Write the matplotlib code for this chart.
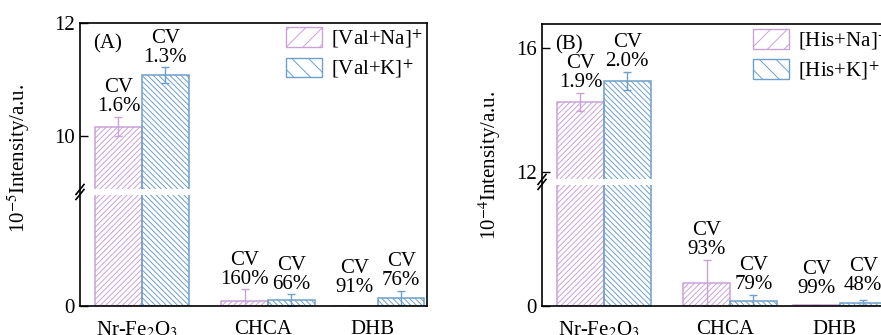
import numpy as np
import matplotlib
matplotlib.use("Agg")
import matplotlib.pyplot as plt
from matplotlib.patches import Patch, Rectangle

plt.rcParams["font.family"] = "Liberation Serif"
plt.rcParams["mathtext.fontset"] = "stix"
plt.rcParams["font.size"] = 15
plt.rcParams["hatch.linewidth"] = 0.7

# data
categories = ["Nr-Fe$_2$O$_3$", "CHCA", "DHB"]

val_na = [10.16, 0.39, 0.02]
val_na_err = [0.17, 0.92, 0.0]
val_k = [11.07, 0.47, 0.65]
val_k_err = [0.14, 0.45, 0.55]
val_na_cv = ["1.6%", "160%", "91%"]
val_k_cv = ["1.3%", "66%", "76%"]

his_na = [14.26, 2.17, 0.08]
his_na_err = [0.29, 2.17, 0.0]
his_k = [14.94, 0.47, 0.31]
his_k_err = [0.29, 0.57, 0.26]
his_na_cv = ["1.9%", "93%", "99%"]
his_k_cv = ["2.0%", "79%", "48%"]

PINK = "#c9a2d8"
BLUE = "#6d9fcc"
xpos = np.array([0.0, 1.0, 1.87])
width = 0.37


def broken_scale(brk, lower_px, upper_rate):
    low_rate = lower_px / brk

    def fwd(y):
        y = np.asarray(y, dtype=float)
        return np.where(y <= brk, y * low_rate, lower_px + (y - brk) * upper_rate)

    def inv(v):
        v = np.asarray(v, dtype=float)
        return np.where(v <= lower_px, v / low_rate, brk + (v - lower_px) / upper_rate)

    return fwd, inv


def panel(ax, na, na_err, k, k_err, na_cv, k_cv, names, tag, ylabel,
          brk, lower_px, upper_rate, ymax, yticks, extra_na, extra_k, leg_xy):
    fwd, inv = broken_scale(brk, lower_px, upper_rate)
    ax.set_yscale("function", functions=(fwd, inv))
    ax.set_ylim(0, ymax)
    ax.set_xlim(-0.49, 2.26)

    for off, vals, errs, col, hatch in [(-width / 2, na, na_err, PINK, "//////"),
                                        (width / 2, k, k_err, BLUE, "\\\\\\\\\\\\")]:
        ax.bar(xpos + off, vals, width, color="none", edgecolor=col,
               hatch=hatch, linewidth=1.1, zorder=1)
        ax.errorbar(xpos + off, vals, yerr=errs, fmt="none", ecolor=col,
                    elinewidth=1.0, capsize=3.2, capthick=1.0, zorder=2)

    # CV labels above each bar
    for i in range(len(xpos)):
        for off, vals, errs, cvs, extra in [(-width / 2, na, na_err, na_cv, extra_na),
                                            (width / 2, k, k_err, k_cv, extra_k)]:
            ax.annotate("CV\n" + cvs[i], xy=(xpos[i] + off, vals[i] + errs[i]),
                        xytext=(0, 0.5 + extra[i]), textcoords="offset points",
                        ha="center", va="bottom", linespacing=1.0)

    # white gap through the bars at the break
    frac = float(fwd(brk) / fwd(ymax))
    h_px = ax.get_position().height * ax.figure.get_figheight() * ax.figure.dpi
    gap = 3.0 / h_px
    ax.add_patch(Rectangle((0, frac - gap), 1, 2 * gap, transform=ax.transAxes,
                           facecolor="white", edgecolor="none", zorder=2.2))
    dx = 4.0 / (ax.get_position().width * ax.figure.get_figwidth() * ax.figure.dpi)
    dy = 5.0 / h_px
    for s in (-2.5 / h_px, 2.5 / h_px):
        ax.plot([-dx, dx], [frac + s - dy, frac + s + dy], color="black",
                lw=1.2, transform=ax.transAxes, clip_on=False, zorder=3)

    ax.set_yticks(yticks)
    ax.set_yticklabels([str(t) for t in yticks])
    ax.minorticks_off()
    ax.tick_params(axis="y", direction="in", length=6, width=1.0, pad=4)
    ax.set_xticks(xpos - 0.04)
    ax.set_xticklabels(names)
    ax.tick_params(axis="x", length=0, pad=10)
    for sp in ax.spines.values():
        sp.set_linewidth(1.2)

    ax.text(0.038, 0.96, tag, transform=ax.transAxes, ha="left", va="top")
    ax.set_ylabel(ylabel)

    handles = [Patch(facecolor="none", edgecolor=PINK, hatch="//", linewidth=1.0),
               Patch(facecolor="none", edgecolor=BLUE, hatch="\\\\", linewidth=1.0)]
    ax.legend(handles, leg_xy[2], loc="upper left", bbox_to_anchor=leg_xy[:2],
              frameon=False, borderpad=0, borderaxespad=0, handlelength=1.73,
              handleheight=1.07, handletextpad=0.42, labelspacing=0.36)


fig = plt.figure(figsize=(8.81, 3.35), dpi=100)
ax1 = fig.add_axes([80 / 881, 29 / 335, 347 / 881, 283 / 335])
ax2 = fig.add_axes([542 / 881, 29 / 335, 347 / 881, 282 / 335])

panel(ax1, val_na, val_na_err, val_k, val_k_err, val_na_cv, val_k_cv, categories,
      "(A)", "10$^{-5}$Intensity/a.u.", brk=9.0, lower_px=114, upper_rate=56.3,
      ymax=12, yticks=[0, 10, 12], extra_na=[0, 0, 6], extra_k=[0, 0, 0],
      leg_xy=(0.594, 0.985, ["[Val+Na]$^{+}$", "[Val+K]$^{+}$"]))
panel(ax2, his_na, his_na_err, his_k, his_k_err, his_na_cv, his_k_cv, categories,
      "(B)", "10$^{-4}$Intensity/a.u.", brk=11.68, lower_px=124, upper_rate=31.0,
      ymax=16.77, yticks=[0, 12, 16], extra_na=[0, 0, 5], extra_k=[0, 0, 3],
      leg_xy=(0.608, 0.982, ["[His+Na]$^{+}$", "[His+K]$^{+}$"]))

ax1.yaxis.set_label_coords(-0.138, 0.52)
ax2.yaxis.set_label_coords(-0.112, 0.50)

fig.savefig("out.png", dpi=100)
